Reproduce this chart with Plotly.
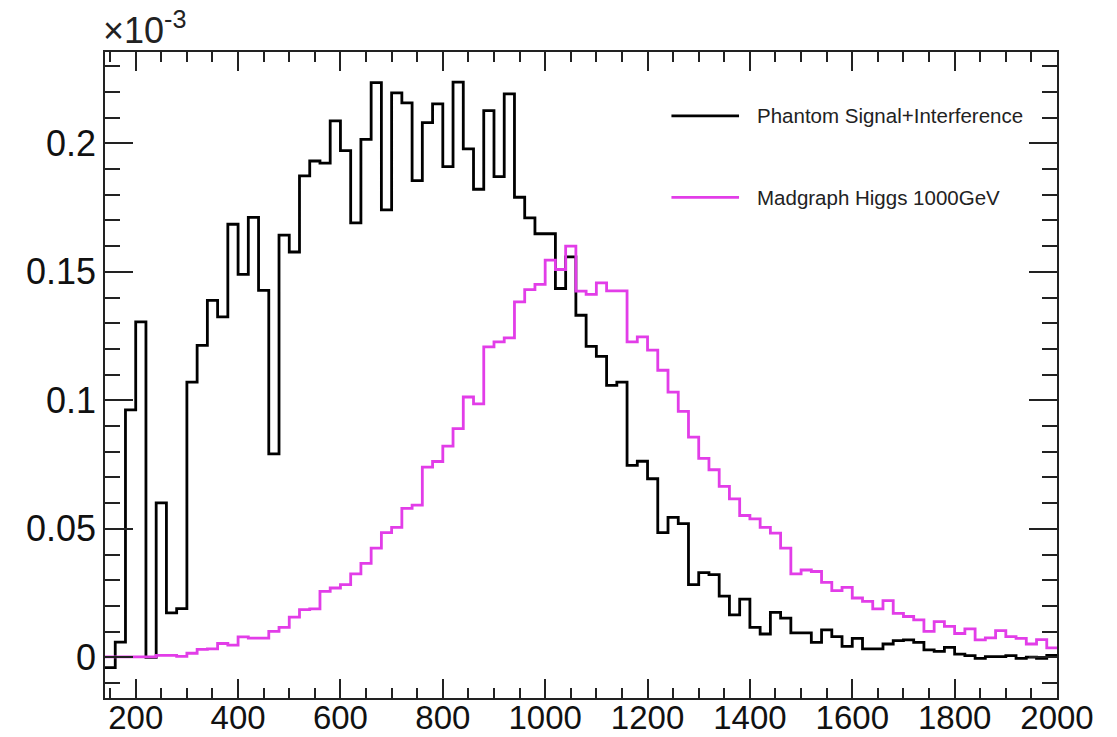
import plotly.graph_objects as go

# Histogram binning (GeV): 20 GeV bins from 140 to 2000
bin_width = 20
bin_low = list(range(140, 2000, bin_width))

# Bin contents in units of 1e-3
phantom_sig_int = [
    -0.0040, 0.0059, 0.0963, 0.1305, 0.0000, 0.0601, 0.0173, 0.0190, 0.1071, 0.1214,
    0.1389, 0.1325, 0.1685, 0.1490, 0.1712, 0.1428, 0.0792, 0.1643, 0.1577, 0.1873,
    0.1931, 0.1923, 0.2087, 0.1971, 0.1690, 0.2015, 0.2236, 0.1741, 0.2196, 0.2157,
    0.1855, 0.2080, 0.2153, 0.1909, 0.2238, 0.1978, 0.1821, 0.2127, 0.1870, 0.2192,
    0.1790, 0.1710, 0.1648, 0.1648, 0.1435, 0.1558, 0.1331, 0.1210, 0.1171, 0.1058,
    0.1071, 0.0747, 0.0763, 0.0695, 0.0485, 0.0545, 0.0520, 0.0283, 0.0330, 0.0322,
    0.0238, 0.0165, 0.0227, 0.0117, 0.0091, 0.0175, 0.0153, 0.0095, 0.0095, 0.0058,
    0.0107, 0.0081, 0.0043, 0.0074, 0.0033, 0.0033, 0.0052, 0.0065, 0.0068, 0.0058,
    0.0029, 0.0023, 0.0039, 0.0013, 0.0007, -0.0004, 0.0003, 0.0003, 0.0007, -0.0004,
    0.0001, -0.0004, 0.0008,
]

madgraph_higgs = [
    0.0002, 0.0002, 0.0002, 0.0002, 0.0002, 0.0008, 0.0008, 0.0004, 0.0016, 0.0031,
    0.0033, 0.0054, 0.0048, 0.0080, 0.0075, 0.0075, 0.0101, 0.0117, 0.0157, 0.0186,
    0.0189, 0.0257, 0.0270, 0.0283, 0.0325, 0.0366, 0.0425, 0.0485, 0.0506, 0.0580,
    0.0592, 0.0740, 0.0762, 0.0822, 0.0890, 0.1013, 0.0986, 0.1208, 0.1227, 0.1243,
    0.1383, 0.1431, 0.1451, 0.1545, 0.1509, 0.1600, 0.1425, 0.1412, 0.1457, 0.1426,
    0.1426, 0.1227, 0.1247, 0.1195, 0.1117, 0.1032, 0.0957, 0.0857, 0.0774, 0.0730,
    0.0665, 0.0617, 0.0552, 0.0539, 0.0506, 0.0483, 0.0425, 0.0325, 0.0340, 0.0334,
    0.0292, 0.0260, 0.0272, 0.0231, 0.0218, 0.0189, 0.0221, 0.0171, 0.0159, 0.0146,
    0.0101, 0.0139, 0.0121, 0.0093, 0.0111, 0.0068, 0.0076, 0.0104, 0.0081, 0.0074,
    0.0052, 0.0069, 0.0037,
]

series_names = ["Phantom Signal+Interference", "Madgraph Higgs 1000GeV"]
series_colors = ["#000000", "#e23de8"]

x_ticks = [200, 400, 600, 800, 1000, 1200, 1400, 1600, 1800, 2000]
y_ticks = [0, 0.05, 0.1, 0.15, 0.2]
y_tick_text = ["0", "0.05", "0.1", "0.15", "0.2"]

FONT = "Liberation Sans, Arial, Helvetica, sans-serif"


def step_xy(lows, vals, width):
    xs = list(lows) + [lows[-1] + width]
    ys = list(vals) + [vals[-1]]
    return xs, ys


fig = go.Figure()
for vals, name, color in zip([phantom_sig_int, madgraph_higgs], series_names, series_colors):
    xs, ys = step_xy(bin_low, vals, bin_width)
    fig.add_trace(go.Scatter(
        x=xs, y=ys, mode="lines", name=name,
        line=dict(color=color, width=2.8, shape="hv"),
        showlegend=False, hoverinfo="skip",
    ))

# Legend drawn inside the frame, ROOT style (no box)
legend_rows = [(0.901, series_names[0], series_colors[0]),
               (0.775, series_names[1], series_colors[1])]
for ypos, name, color in legend_rows:
    fig.add_shape(type="line", xref="paper", yref="paper",
                  x0=0.595, x1=0.666, y0=ypos, y1=ypos,
                  line=dict(color=color, width=2.8))
    fig.add_annotation(xref="paper", yref="paper", x=0.683, y=ypos,
                       xanchor="left", yanchor="middle", showarrow=False,
                       text=name, font=dict(family=FONT, size=20.5, color="#222222"))

# Axis exponent label
fig.add_annotation(xref="paper", yref="paper", x=-0.004, y=1.0,
                   xanchor="left", yanchor="bottom", yshift=-1, showarrow=False,
                   text="×10<sup>-3</sup>", font=dict(family=FONT, size=36, color="#222222"))

axis_common = dict(
    showline=True, linecolor="#222222", linewidth=1.6, mirror="ticks",
    ticks="inside", tickcolor="#222222", tickwidth=1.6,
    showgrid=False, zeroline=False, automargin=False,
)

fig.update_xaxes(
    range=[140, 2000], tickvals=x_ticks, ticklen=19, ticklabelstandoff=-10,
    tickfont=dict(family=FONT, size=33, color="#111111"),
    minor=dict(dtick=50, tick0=0, ticks="inside", ticklen=10,
               tickcolor="#222222", tickwidth=1.6, showgrid=False),
    **axis_common,
)
fig.update_yaxes(
    range=[-0.0158, 0.2355], tickvals=y_ticks, ticktext=y_tick_text, ticklen=28,
    tickfont=dict(family=FONT, size=36, color="#111111"),
    minor=dict(dtick=0.01, tick0=0, ticks="inside", ticklen=15,
               tickcolor="#222222", tickwidth=1.6, showgrid=False),
    **axis_common,
)

fig.update_layout(
    width=1117, height=737,
    margin=dict(l=105, r=60, t=52, b=39, autoexpand=False),
    paper_bgcolor="white", plot_bgcolor="white",
    font=dict(family=FONT),
)

fig.write_html("out.html")
